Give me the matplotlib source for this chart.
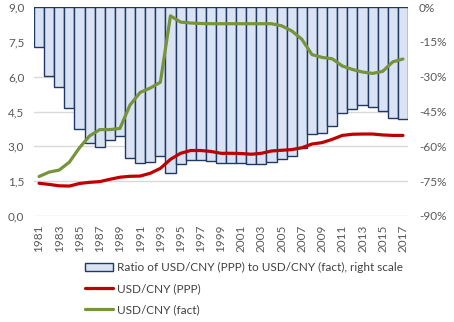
import numpy as np
import matplotlib
matplotlib.use("Agg")
import matplotlib.pyplot as plt
from matplotlib.ticker import FuncFormatter

plt.rcParams["font.family"] = ["Lato", "DejaVu Sans"]

years = list(range(1981, 2018))
usd_cny_fact = [1.70, 1.89, 1.98, 2.32, 2.94, 3.45, 3.72, 3.72, 3.77, 4.78,
                5.32, 5.51, 5.76, 8.62, 8.35, 8.31, 8.29, 8.28, 8.28, 8.28,
                8.28, 8.28, 8.28, 8.28, 8.19, 7.97, 7.61, 6.95, 6.83, 6.77,
                6.46, 6.31, 6.20, 6.14, 6.23, 6.64, 6.76]
usd_cny_ppp = [1.41, 1.36, 1.30, 1.29, 1.40, 1.45, 1.48, 1.58, 1.67, 1.71,
               1.72, 1.84, 2.05, 2.44, 2.70, 2.82, 2.82, 2.78, 2.70, 2.70,
               2.69, 2.66, 2.70, 2.80, 2.83, 2.86, 2.94, 3.10, 3.16, 3.30,
               3.47, 3.52, 3.53, 3.53, 3.49, 3.47, 3.47]
ratio_pct = [-17.4, -29.8, -34.6, -43.6, -52.7, -58.7, -60.4, -57.4, -55.7, -65.2,
             -67.3, -66.9, -64.2, -71.6, -67.7, -65.9, -65.9, -66.3, -67.3, -67.3,
             -67.3, -67.7, -67.7, -66.6, -65.6, -64.3, -60.8, -54.8, -54.4, -51.4,
             -45.8, -44.1, -42.3, -43.2, -44.9, -47.8, -48.2]

grey = "#595959"
fig = plt.figure(figsize=(4.54, 3.22), dpi=100)
ax = fig.add_axes([34 / 454, 106 / 322, 374 / 454, 209 / 322])
ax2 = ax.twinx()

x = np.arange(len(years))

# bars hanging from 0% on the right scale
bars = ax2.bar(x, ratio_pct, width=1.0, color="#DAE3F3", edgecolor="#1F3864",
               linewidth=1.0, label="Ratio of USD/CNY (PPP) to USD/CNY (fact), right scale")
ax2.set_ylim(-90, 0)
ax2.set_yticks(np.arange(-90, 1, 15))
ax2.yaxis.set_major_formatter(FuncFormatter(lambda v, p: "{:.0f}%".format(v)))
ax2.grid(axis="y", color="#D9D9D9", linewidth=1.0)
ax2.set_axisbelow(True)

# lines on the left scale, drawn over the bars
ax.set_zorder(ax2.get_zorder() + 1)
ax.patch.set_visible(False)
l1, = ax.plot(x, usd_cny_ppp, color="#C00000", linewidth=2.3,
              solid_capstyle="round", label="USD/CNY (PPP)")
l2, = ax.plot(x, usd_cny_fact, color="#77933C", linewidth=2.3,
              solid_capstyle="round", label="USD/CNY (fact)")
ax.set_ylim(0, 9)
ax.set_yticks(np.arange(0, 9.1, 1.5))
ax.yaxis.set_major_formatter(FuncFormatter(lambda v, p: "{:.1f}".format(v).replace(".", ",")))
ax.set_xlim(-0.5, len(years) - 0.5)
ax.set_xticks(x[::2])
ax.set_xticklabels([str(y) for y in years[::2]], rotation=90)

for a in (ax, ax2):
    for s in a.spines.values():
        s.set_visible(False)
    a.tick_params(length=0, labelsize=8.5, labelcolor=grey)
ax.tick_params(axis="y", pad=7)
ax.tick_params(axis="x", pad=6)
ax2.tick_params(axis="y", pad=8)

fig.legend([bars, l1, l2], [bars.get_label(), l1.get_label(), l2.get_label()],
           loc="upper left", bbox_to_anchor=(80 / 454, 1 - 257 / 322),
           frameon=False, fontsize=8.5, labelcolor="#404040", handlelength=2.4,
           handletextpad=0.35, labelspacing=0.85, borderaxespad=0)

fig.savefig("out.png", dpi=100)
